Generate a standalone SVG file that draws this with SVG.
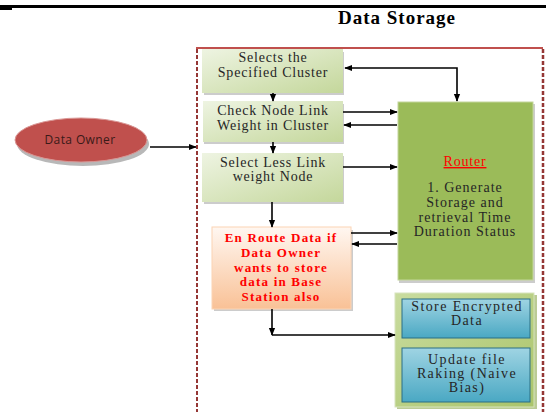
<svg xmlns="http://www.w3.org/2000/svg" width="546" height="412" viewBox="0 0 546 412">
<defs>
<linearGradient id="gGreen" x1="0" y1="0" x2="1" y2="1">
<stop offset="0" stop-color="#eef4e2"/><stop offset="1" stop-color="#c4d79b"/>
</linearGradient>
<linearGradient id="gPeach" x1="0" y1="0" x2="0" y2="1">
<stop offset="0" stop-color="#fff7f1"/><stop offset="1" stop-color="#f9c196"/>
</linearGradient>
<linearGradient id="gBlue" x1="0" y1="0" x2="0" y2="1">
<stop offset="0" stop-color="#9fd4e3"/><stop offset="1" stop-color="#4aa8c3"/>
</linearGradient>
<linearGradient id="gOuter" x1="0" y1="0" x2="1" y2="1">
<stop offset="0" stop-color="#c9dc9f"/><stop offset="1" stop-color="#aac46a"/>
</linearGradient>
<marker id="ah" viewBox="0 0 10 10" refX="9" refY="5" markerWidth="8" markerHeight="8" orient="auto-start-reverse" markerUnits="userSpaceOnUse">
<path d="M0,1 L10,5 L0,9 z" fill="#000"/>
</marker>
</defs>
<style>
.lbl{font-family:"Liberation Serif","Times New Roman",serif;font-size:14px;fill:#262626;text-anchor:middle;letter-spacing:0.8px}
.rl{font-family:"Liberation Serif","Times New Roman",serif;font-size:14px;fill:#262626;text-anchor:middle;letter-spacing:1px}
.bl{font-family:"Liberation Serif","Times New Roman",serif;font-size:14px;fill:#262626;text-anchor:middle;letter-spacing:1.4px}
.red{font-family:"Liberation Serif","Times New Roman",serif;font-size:13px;font-weight:bold;fill:#ff0000;text-anchor:middle;letter-spacing:1.2px}
.con{stroke:#000;stroke-width:1.6;fill:none}
.shadow{fill:#9a9a9a;opacity:0.5}
</style>
<rect width="546" height="412" fill="#fff"/>
<rect x="0" y="5" width="546" height="3" fill="#000"/>
<rect x="0" y="8" width="12" height="2" fill="#000"/>
<text x="397" y="24" font-family="Liberation Serif, Times New Roman, serif" font-size="19" font-weight="bold" text-anchor="middle" letter-spacing="1" fill="#000">Data Storage</text>

<g id="container">
<line x1="196" y1="48" x2="543" y2="48" stroke="#c0504d" stroke-width="2.2"/>
<line x1="197" y1="49" x2="197" y2="412" stroke="#953735" stroke-width="2" stroke-dasharray="4,2"/>
<line x1="543" y1="49" x2="543" y2="412" stroke="#953735" stroke-width="2.5" stroke-dasharray="4,2"/>
</g>

<g id="data-owner">
<ellipse cx="83" cy="144" rx="66" ry="22" fill="#a6a6a6" opacity="0.8"/>
<ellipse cx="81" cy="140" rx="66" ry="22" fill="#c0504d" stroke="#d99694" stroke-width="1"/>
<text x="80" y="144" font-family="Open Sans, Noto Sans, sans-serif" font-size="12" letter-spacing="0.4" fill="#3a1a18" text-anchor="middle">Data Owner</text>
</g>

<g id="selects-cluster">
<rect x="204" y="52" width="140" height="43" class="shadow"/>
<rect x="202" y="49" width="141" height="44" fill="url(#gGreen)"/>
<text x="273" y="62" class="lbl">Selects the</text>
<text x="273" y="77" class="lbl">Specified Cluster</text>
</g>

<g id="check-node">
<rect x="204" y="104" width="140" height="40" class="shadow"/>
<rect x="203" y="101" width="140" height="41" fill="url(#gGreen)"/>
<text x="273" y="115" class="lbl">Check Node Link</text>
<text x="273" y="130" class="lbl">Weight in Cluster</text>
</g>

<g id="select-less">
<rect x="204" y="156" width="140" height="48" class="shadow"/>
<rect x="202" y="153" width="141" height="49" fill="url(#gGreen)"/>
<text x="273" y="167" class="lbl">Select Less Link</text>
<text x="273" y="181" class="lbl">weight Node</text>
</g>

<g id="en-route">
<rect x="214" y="230" width="139" height="81" class="shadow"/>
<rect x="212" y="227" width="139" height="82" fill="url(#gPeach)" stroke="#fbd4b4" stroke-width="1"/>
<text x="281" y="242" class="red">En Route Data if</text>
<text x="281" y="257" class="red">Data Owner</text>
<text x="281" y="272" class="red">wants to store</text>
<text x="281" y="286" class="red">data in Base</text>
<text x="281" y="301" class="red">Station also</text>
</g>

<g id="router">
<rect x="399" y="104" width="136" height="179" class="shadow"/>
<rect x="398" y="102" width="135" height="178" fill="#9bbb59" stroke="#c3d69b" stroke-width="1"/>
<text x="465" y="166" font-family="Liberation Serif, Times New Roman, serif" font-size="14" letter-spacing="0.8" fill="#ff0000" text-anchor="middle" text-decoration="underline">Router</text>
<text x="465" y="192" class="rl">1. Generate</text>
<text x="465" y="207" class="rl">Storage and</text>
<text x="465" y="221.5" class="rl">retrieval Time</text>
<text x="465" y="236" class="rl">Duration Status</text>
</g>

<g id="storage-group">
<rect x="397" y="295" width="140" height="114" fill="#8ea94f" opacity="0.6"/>
<rect x="395" y="293" width="139" height="114" fill="url(#gOuter)" stroke="#d7e4bd" stroke-width="1"/>
</g>

<g id="store-encrypted">
<rect x="402" y="299" width="128" height="39" fill="url(#gBlue)" stroke="#2a6f85" stroke-width="1"/>
<text x="467" y="311" class="bl">Store Encrypted</text>
<text x="467" y="325" class="bl">Data</text>
</g>

<g id="update-ranking">
<rect x="402" y="348" width="128" height="54" fill="url(#gBlue)" stroke="#2a6f85" stroke-width="1"/>
<text x="467" y="364" class="bl">Update file</text>
<text x="467" y="378" class="bl">Raking (Naive</text>
<text x="467" y="392" class="bl">Bias)</text>
</g>

<g id="connectors">
<path class="con" d="M150,147 H196" marker-end="url(#ah)"/>
<path class="con" d="M345,68 H457 V101" marker-start="url(#ah)" marker-end="url(#ah)"/>
<path class="con" d="M273,93 V101" marker-end="url(#ah)"/>
<path class="con" d="M273,142 V153" marker-end="url(#ah)"/>
<path class="con" d="M343,112 H397" marker-end="url(#ah)"/>
<path class="con" d="M397,125 H344" marker-end="url(#ah)"/>
<path class="con" d="M343,167 H397" marker-end="url(#ah)"/>
<path class="con" d="M272,202 V227" marker-end="url(#ah)"/>
<path class="con" d="M351,233 H397" marker-end="url(#ah)"/>
<path class="con" d="M397,244 H352" marker-end="url(#ah)"/>
<path class="con" d="M272,309 V335" marker-end="url(#ah)"/>
<path class="con" d="M272,335 H395" marker-end="url(#ah)"/>
</g>
</svg>
